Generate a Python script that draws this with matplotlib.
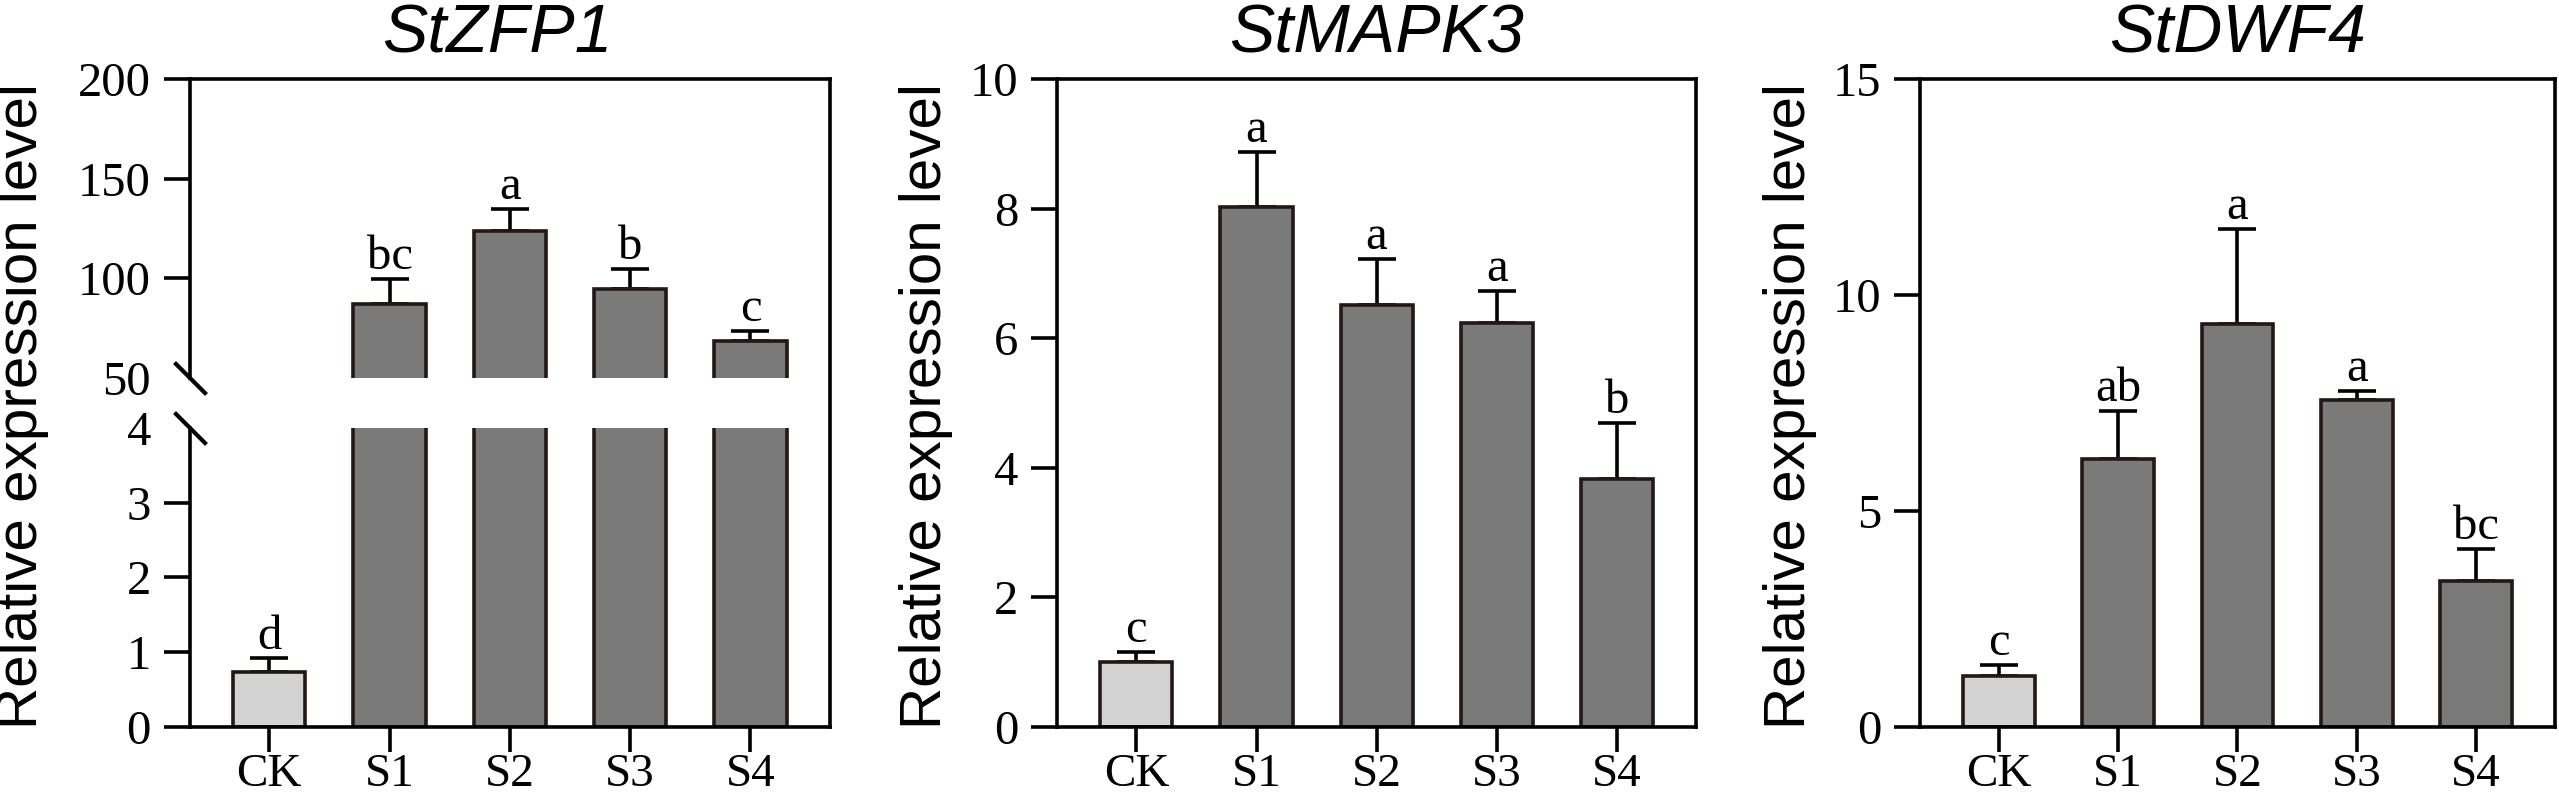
"""
Relative expression of StZFP1, StMAPK3 and StDWF4 (CK vs S1-S4).
Three bar panels, StZFP1 with a broken y axis (0-4 / 50-200).
"""

import numpy as np
import matplotlib
matplotlib.use('Agg')
import matplotlib.pyplot as plt
from matplotlib.ticker import FixedLocator

# ── Data ─────────────────────────────────────────────────────────────────────

GROUPS = ["CK", "S1", "S2", "S3", "S4"]

ZFP1_MEAN = [0.73, 87.0, 124.0, 94.6, 68.4]
ZFP1_SD = [0.19, 12.8, 11.0, 10.0, 5.1]
ZFP1_LETTERS = ["d", "bc", "a", "b", "c"]

MAPK3_MEAN = [1.00, 8.03, 6.52, 6.24, 3.82]
MAPK3_SD = [0.16, 0.84, 0.70, 0.49, 0.87]
MAPK3_LETTERS = ["c", "a", "a", "a", "b"]

DWF4_MEAN = [1.18, 6.21, 9.32, 7.57, 3.38]
DWF4_SD = [0.26, 1.10, 2.21, 0.21, 0.75]
DWF4_LETTERS = ["c", "ab", "a", "a", "bc"]

ZFP1_TICKS = [0, 1, 2, 3, 4, 50, 100, 150, 200]
MAPK3_TICKS = [0, 2, 4, 6, 8, 10]
DWF4_TICKS = [0, 5, 10, 15]

# przerwa na osi StZFP1
BREAK_LO, BREAK_HI = 4, 50

# ── Styl ─────────────────────────────────────────────────────────────────────

EDGE = '#231815'
CK_COLOR = '#d3d3d3'
S_COLOR = '#7a7a7a'
LW = 2.6
SERIF = 'Liberation Serif'
SANS = 'Liberation Sans'

plt.rcParams['font.family'] = [SERIF, 'DejaVu Serif']

# wysokości segmentów osi (te same jednostki): dół 0-4, przerwa, góra 50-200
SEG_LOW, SEG_GAP, SEG_HIGH = 300.0, 50.0, 300.0


def broken_forward(y):
    y = np.asarray(y, dtype=float)
    a = SEG_LOW / BREAK_LO
    g = SEG_GAP / (BREAK_HI - BREAK_LO)
    b = SEG_HIGH / (200 - BREAK_HI)
    return np.where(y <= BREAK_LO, y * a,
                    np.where(y <= BREAK_HI, SEG_LOW + (y - BREAK_LO) * g,
                             SEG_LOW + SEG_GAP + (y - BREAK_HI) * b))


def broken_inverse(v):
    v = np.asarray(v, dtype=float)
    a = SEG_LOW / BREAK_LO
    g = SEG_GAP / (BREAK_HI - BREAK_LO)
    b = SEG_HIGH / (200 - BREAK_HI)
    return np.where(v <= SEG_LOW, v / a,
                    np.where(v <= SEG_LOW + SEG_GAP, BREAK_LO + (v - SEG_LOW) / g,
                             BREAK_HI + (v - SEG_LOW - SEG_GAP) / b))


def draw_panel(ax, title, means, sds, letters, ticks, ylim, title_x=0.5,
               label_x=-0.205):
    x = np.arange(len(GROUPS))
    means = np.array(means)
    sds = np.array(sds)
    colors = [CK_COLOR] + [S_COLOR] * (len(GROUPS) - 1)

    # tylko górne słupki błędów (dolna część schowana pod słupkiem)
    ax.errorbar(x, means, yerr=[np.zeros_like(sds), sds], fmt='none',
                ecolor='black', elinewidth=LW, capsize=13.7, capthick=LW,
                zorder=0.5)
    ax.bar(x, means, width=0.6, color=colors, edgecolor=EDGE, linewidth=LW,
           zorder=1)

    for xi, m, s, lab in zip(x, means, sds, letters):
        ax.annotate(lab, (xi, m + s), xytext=(0, 7), textcoords='offset points',
                    ha='center', va='baseline', fontsize=35, family=SERIF)

    ax.set_xlim(-0.66, 4.66)
    ax.set_ylim(*ylim)
    ax.set_xticks(x)
    ax.set_xticklabels(GROUPS, family=SERIF)
    ax.yaxis.set_major_locator(FixedLocator(ticks))
    ax.set_yticklabels([str(t) for t in ticks], family=SERIF)

    ax.tick_params(axis='both', direction='out', width=LW, color='black')
    ax.tick_params(axis='x', length=18, pad=1, labelsize=34)
    ax.tick_params(axis='y', length=19, pad=9, labelsize=35)

    for spine in ax.spines.values():
        spine.set_linewidth(LW)
        spine.set_color('black')

    ax.set_title(title, fontsize=49, family=SANS, style='italic', pad=19,
                 x=title_x)
    ax.set_ylabel("Relative expression level", fontsize=42, family=SANS)
    ax.yaxis.label.set_verticalalignment('center')
    ax.yaxis.set_label_coords(label_x, 0.495)


# ── Rysunek ──────────────────────────────────────────────────────────────────

fig = plt.figure(figsize=(25.59, 7.97), dpi=100)
fig.patch.set_facecolor('white')

bottom, height = 0.0878, 0.8131
ax1 = fig.add_axes([0.0742, bottom, 0.2501, height])
ax2 = fig.add_axes([0.4131, bottom, 0.2497, height])
ax3 = fig.add_axes([0.7503, bottom, 0.2481, height])

ax1.set_yscale('function', functions=(broken_forward, broken_inverse))
draw_panel(ax1, "StZFP1", ZFP1_MEAN, ZFP1_SD, ZFP1_LETTERS, ZFP1_TICKS,
           (0, 200), title_x=0.48, label_x=-0.2625)
draw_panel(ax2, "StMAPK3", MAPK3_MEAN, MAPK3_SD, MAPK3_LETTERS, MAPK3_TICKS,
           (0, 10))
draw_panel(ax3, "StDWF4", DWF4_MEAN, DWF4_SD, DWF4_LETTERS, DWF4_TICKS,
           (0, 15), label_x=-0.2047)

# ── Przerwa na osi StZFP1 ──
ax1.axhspan(BREAK_LO, BREAK_HI, color='white', zorder=2, lw=0)
ax1.spines['left'].set_visible(False)
ytrans = ax1.get_yaxis_transform()
for seg in [(0, BREAK_LO), (BREAK_HI, 200)]:
    ax1.plot([0, 0], seg, transform=ytrans, color='black', lw=LW,
             solid_capstyle='projecting', clip_on=False, zorder=3)
ax1.plot([0, 0], [BREAK_LO, BREAK_HI], transform=ytrans, ls='none',
         marker=[(-1, 1), (1, -1)], ms=23, mew=LW + 0.4, color='black',
         clip_on=False, zorder=3)
for tick, val in zip(ax1.yaxis.get_major_ticks(), ZFP1_TICKS):
    if val in (BREAK_LO, BREAK_HI):
        tick.tick1line.set_visible(False)

fig.savefig('out.png', dpi=100, facecolor='white')
